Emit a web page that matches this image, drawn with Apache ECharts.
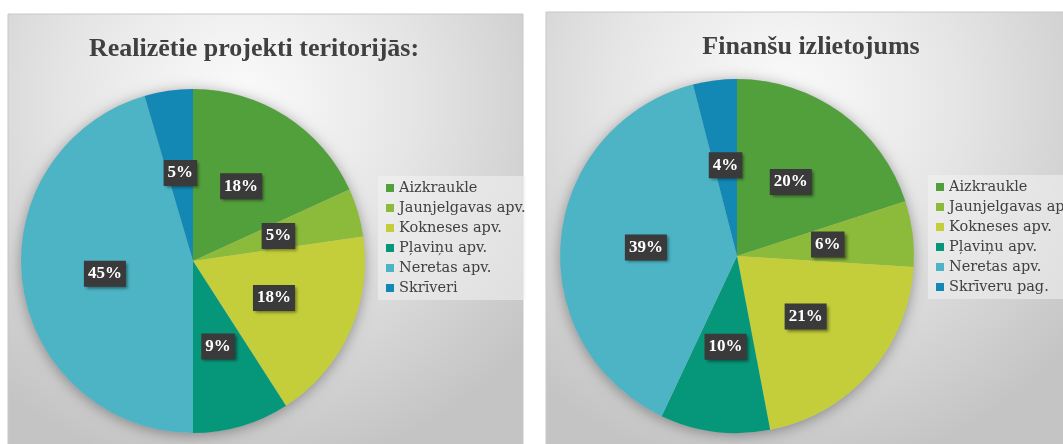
<!DOCTYPE html>
<html>
<head>
<meta charset="utf-8">
<script src="https://cdn.jsdelivr.net/npm/echarts@6/dist/echarts.min.js"></script>
<style>
html,body{margin:0;padding:0;background:#ffffff;}
#chart{width:1063px;height:444px;}
</style>
</head>
<body>
<div id="chart"></div>
<script>
// ---- data ----
var leftTitle = 'Realizētie projekti teritorijās:';
var rightTitle = 'Finanšu izlietojums';
var leftCategories = ['Aizkraukle', 'Jaunjelgavas apv.', 'Kokneses apv.', 'Pļaviņu apv.', 'Neretas apv.', 'Skrīveri'];
var leftValues = [4, 1, 4, 2, 10, 1];
var rightCategories = ['Aizkraukle', 'Jaunjelgavas apv.', 'Kokneses apv.', 'Pļaviņu apv.', 'Neretas apv.', 'Skrīveru pag.'];
var rightValues = [20, 6, 21, 10, 39, 4];
var sliceColors = ['#52a03c', '#8cbb3b', '#c4ce3b', '#06977a', '#4cb4c5', '#1388b5'];

var FONT = '"Liberation Serif", "DejaVu Serif", serif';
var LEGEND_FONT = '"DejaVu Serif", "Liberation Serif", serif';
var chart = echarts.init(document.getElementById('chart'), null, {renderer: 'canvas'});

function buildData(cats, vals) {
  return cats.map(function (c, i) {
    return {name: c, value: vals[i], itemStyle: {color: sliceColors[i]}};
  });
}
function pctFormatter(vals) {
  var total = vals.reduce(function (a, b) { return a + b; }, 0);
  return function (p) { return Math.round(p.value / total * 100) + '%'; };
}
function panelBg() {
  return new echarts.graphic.RadialGradient(0.45, 0.2, 0.85, [
    {offset: 0, color: '#fbfbfb'},
    {offset: 0.45, color: '#e6e6e6'},
    {offset: 1, color: '#c4c4c4'}
  ]);
}
var labelStyle = {
  show: true,
  position: 'inside',
  color: '#ffffff',
  fontFamily: FONT,
  fontWeight: 'bold',
  fontSize: 17,
  backgroundColor: '#3a3a3a',
  padding: [5, 4, 4, 4],
  shadowColor: 'rgba(0,0,0,0.45)',
  shadowBlur: 3,
  shadowOffsetX: 2,
  shadowOffsetY: 2
};
function makePie(center, radius, cats, vals) {
  return [{
    type: 'pie',
    silent: true,
    center: center,
    radius: radius,
    z: 1,
    label: {show: false},
    labelLine: {show: false},
    itemStyle: {color: '#bdbdbd', shadowBlur: 14, shadowColor: 'rgba(0,0,0,0.35)', shadowOffsetY: 2},
    data: [{name: '__bg', value: 1}]
  }, {
    type: 'pie',
    center: center,
    radius: radius,
    startAngle: 90,
    clockwise: true,
    animation: false,
    z: 2,
    itemStyle: {borderWidth: 0},
    label: Object.assign({formatter: pctFormatter(vals)}, labelStyle),
    labelLine: {show: false},
    emphasis: {disabled: true},
    data: buildData(cats, vals)
  }];
}
var legendBase = {
  orient: 'vertical',
  itemWidth: 8,
  itemHeight: 8,
  itemGap: 0,
  icon: 'rect',
  selectedMode: false,
  backgroundColor: 'rgba(242,242,242,0.55)',
  padding: [2, 0, 2, 8],
  textStyle: {fontFamily: LEGEND_FONT, fontSize: 14.5, color: '#404040', lineHeight: 20}
};

var option = {
  animation: false,
  graphic: [
    {type: 'rect', z: -10, shape: {x: 8, y: 14, width: 515, height: 440},
     style: {fill: panelBg(), stroke: '#c8c8c8', lineWidth: 1}},
    {type: 'rect', z: -10, shape: {x: 546, y: 12, width: 530, height: 442},
     style: {fill: panelBg(), stroke: '#c8c8c8', lineWidth: 1}}
  ],
  title: [
    {text: leftTitle, left: 249, top: 31, textAlign: 'center',
     textStyle: {fontFamily: FONT, fontSize: 26, fontWeight: 'bold', color: '#404040'}},
    {text: rightTitle, left: 806, top: 29, textAlign: 'center',
     textStyle: {fontFamily: FONT, fontSize: 26, fontWeight: 'bold', color: '#404040'}}
  ],
  legend: [
    Object.assign({left: 378, top: 176, data: leftCategories}, legendBase),
    Object.assign({left: 928, top: 175, data: rightCategories}, legendBase)
  ],
  series: makePie([193, 261], 172, leftCategories, leftValues)
    .concat(makePie([737, 256], 177, rightCategories, rightValues))
};
chart.setOption(option);
</script>
</body>
</html>
